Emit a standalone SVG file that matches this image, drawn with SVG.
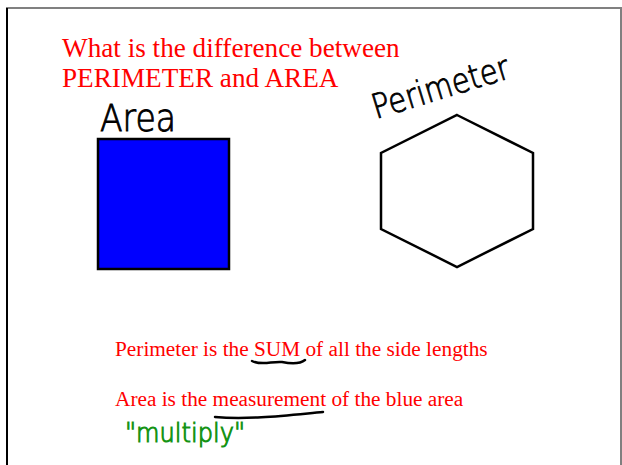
<svg xmlns="http://www.w3.org/2000/svg" width="622" height="465" viewBox="0 0 622 465">
  <style>
    .red { font-family: "Liberation Serif", "Times New Roman", serif; fill: #ff0000; }
    .hand { font-family: "DejaVu Sans", "Liberation Sans", Arial, sans-serif; font-weight: 200; fill: #000000; stroke: #000000; stroke-width: 0.9; }
    .green { fill: #159415; stroke: #159415; stroke-width: 1.1; }
    .shape { stroke: #000000; stroke-width: 2.5; stroke-linejoin: miter; }
    .ink { fill: none; stroke: #000000; stroke-width: 2.5; stroke-linecap: round; }
  </style>
  <rect x="0" y="0" width="622" height="465" fill="#ffffff"/>
  <g id="frame">
    <line x1="6" y1="8" x2="622" y2="8" stroke="#808080" stroke-width="2"/>
    <line x1="7" y1="8" x2="7" y2="465" stroke="#000000" stroke-width="2"/>
    <line x1="621" y1="8" x2="621" y2="465" stroke="#808080" stroke-width="2"/>
  </g>
  <g id="title">
    <text class="red" x="62" y="57" font-size="27.2">What is the difference between</text>
    <text class="red" x="62" y="87" font-size="27.2">PERIMETER and AREA</text>
  </g>
  <g id="area-node">
    <text class="hand" x="100" y="131" font-size="37" textLength="76" lengthAdjust="spacingAndGlyphs">Area</text>
    <rect class="shape" x="98" y="139" width="131" height="130" fill="#0000ff"/>
  </g>
  <g id="perimeter-node">
    <text class="hand" x="376" y="119" font-size="34" textLength="142" lengthAdjust="spacingAndGlyphs" transform="rotate(-17 376 119)">Perimeter</text>
    <polygon class="shape" points="457,115 533,153 533,229 457,267 381,229 381,153" fill="#ffffff"/>
  </g>
  <g id="definitions">
    <text class="red" x="115" y="356" font-size="21.3">Perimeter is the SUM of all the side lengths</text>
    <path class="ink" d="M252,361 C262,366 272,361 282,362 C292,364 300,364 305,360"/>
    <text class="red" x="115" y="406" font-size="21.3">Area is the measurement of the blue area</text>
    <path class="ink" d="M215,417 C250,420 290,415 323,412"/>
    <text class="hand green" x="125" y="442" font-size="27" textLength="120" lengthAdjust="spacingAndGlyphs">"multiply"</text>
  </g>
  <g id="connectors"/>
</svg>
